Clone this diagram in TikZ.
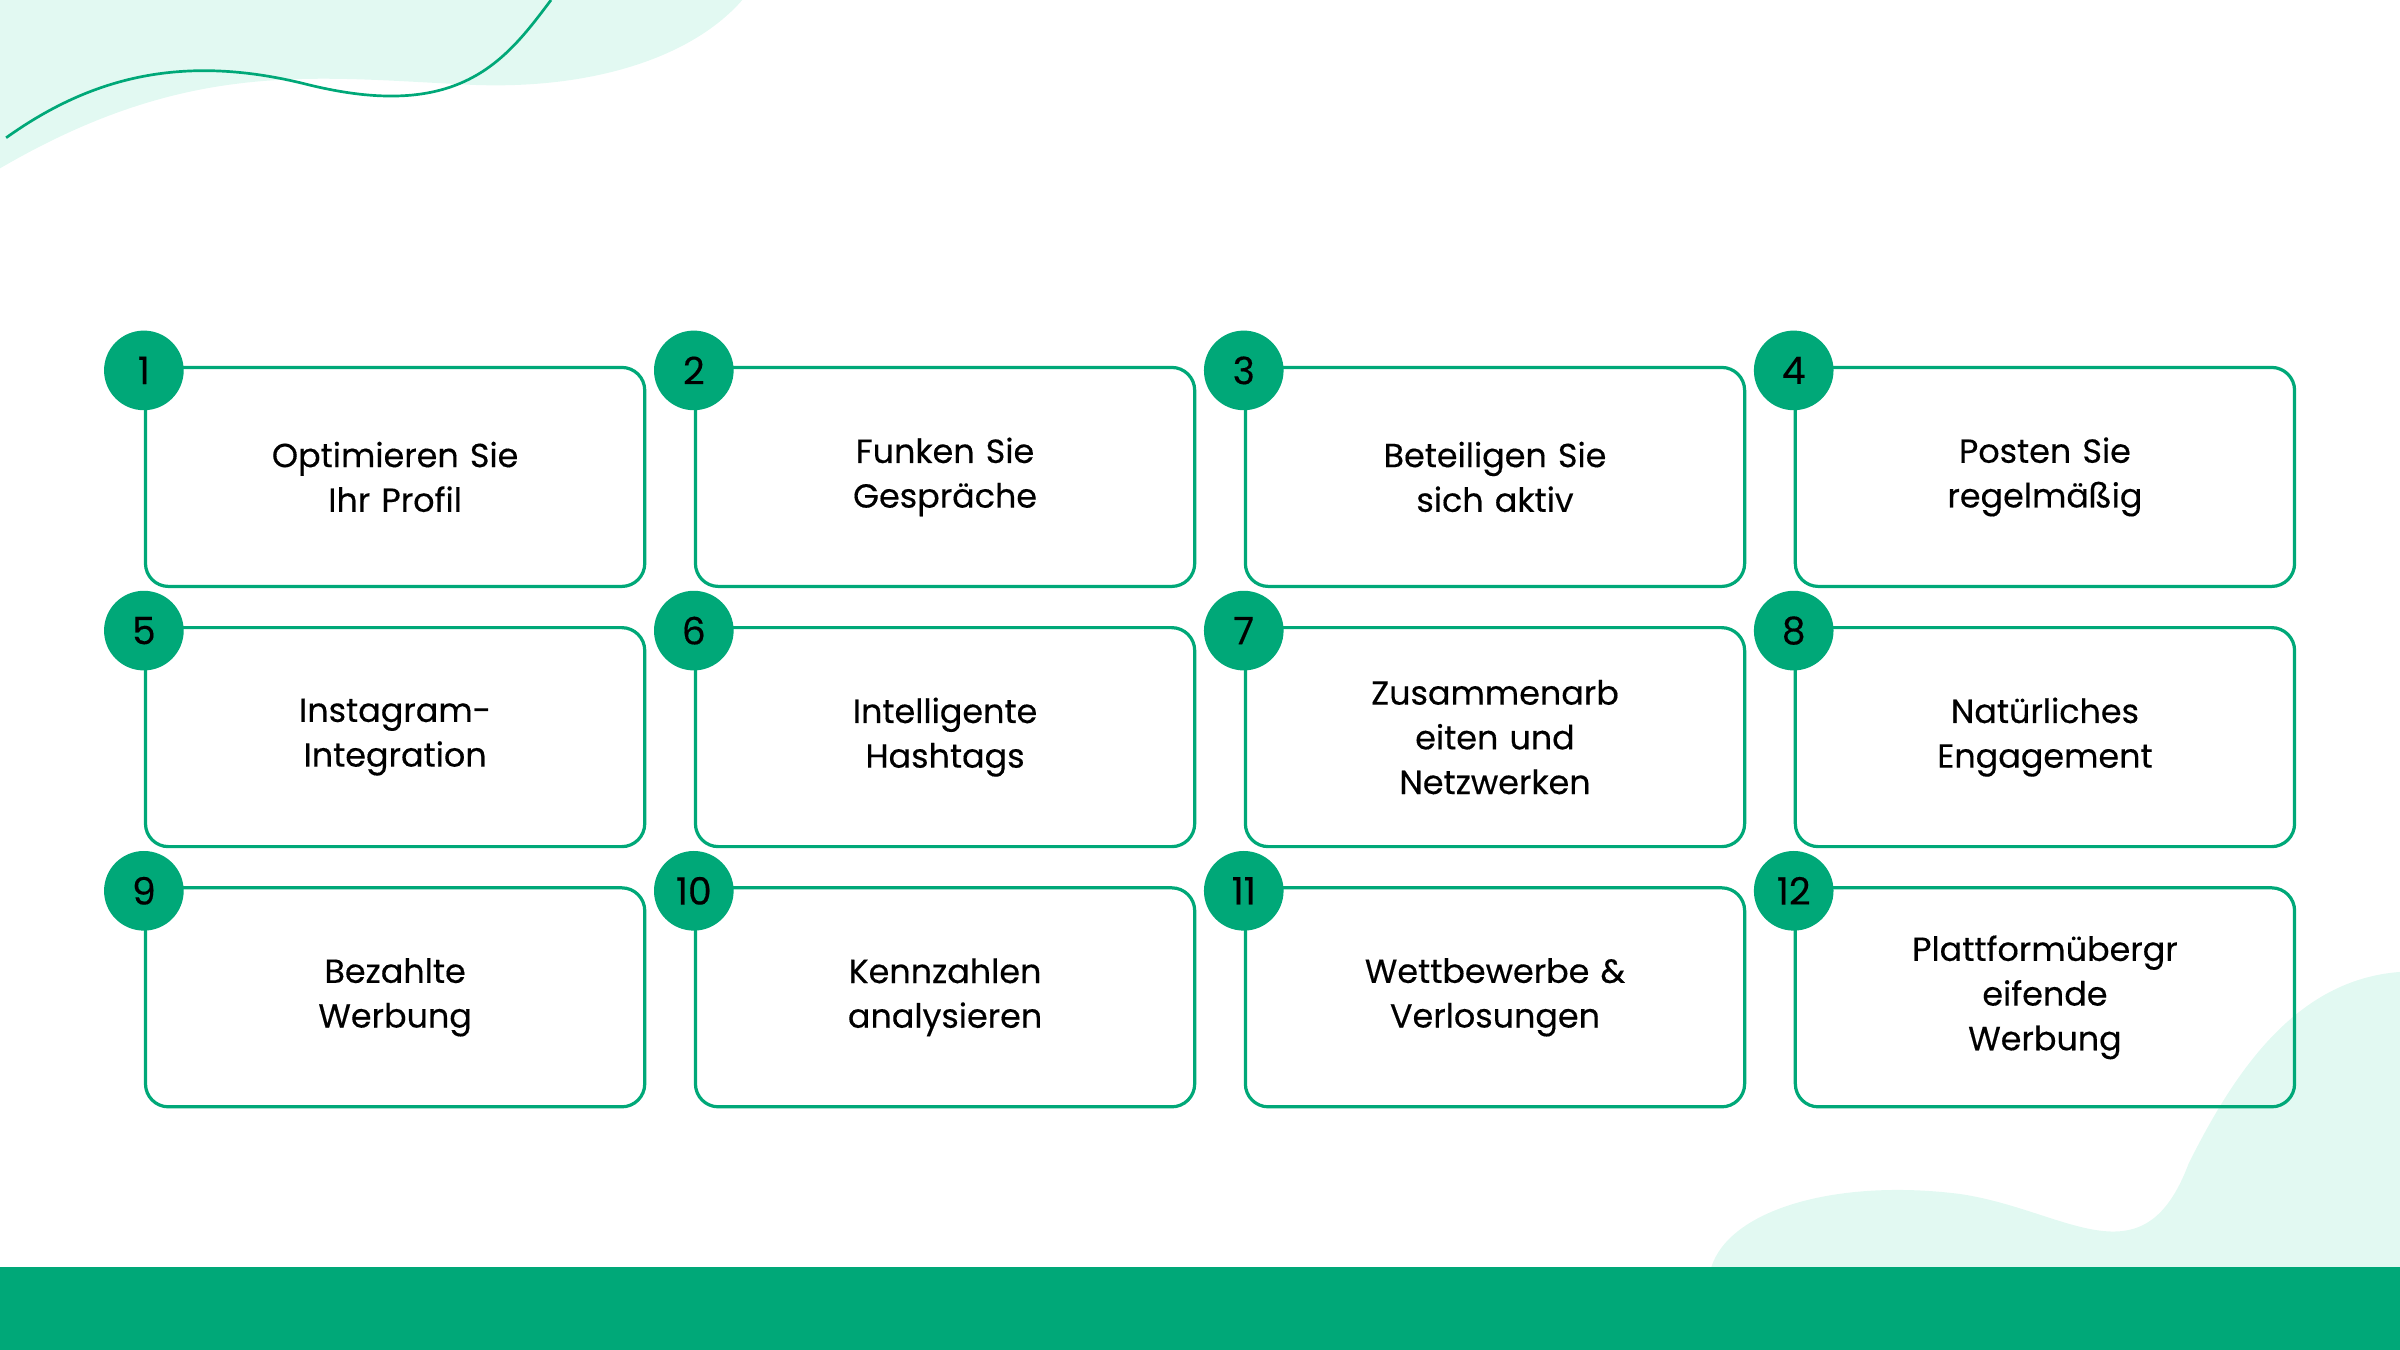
\documentclass[tikz,border=0pt]{standalone}
\usepackage{fontspec}
\setmainfont{Poppins}[UprightFeatures={FakeBold=0.35}]
\definecolor{grn}{HTML}{00A878}
\definecolor{mint}{HTML}{E2F9F2}
\tikzset{
 card/.style={draw=grn,line width=0.6pt,rounded corners=0.15cm,minimum width=3.26cm,minimum height=1.43cm,anchor=north west,align=center,font=\fontsize{6.2}{8.3}\selectfont,text width=2.4cm},
 num/.style={circle,fill=grn,minimum size=0.52cm,inner sep=0pt,font=\fontsize{7}{8}\selectfont}
}
\begin{document}
\begin{tikzpicture}[x=0.01cm,y=-0.01cm]
\useasboundingbox (0,0) rectangle (1568,882);
% blobs
\fill[mint] (0,0) -- (485,0) .. controls (450,40) and (380,60) .. (300,55) .. controls (200,50) and (120,40) .. (0,110) -- cycle;
\fill[mint] (1118,828) .. controls (1130,790) and (1200,770) .. (1280,780) .. controls (1350,790) and (1400,840) .. (1430,760) .. controls (1460,700) and (1500,640) .. (1568,635) -- (1568,828) -- cycle;
\draw[grn,line width=0.5pt] (4,90) .. controls (60,50) and (120,35) .. (200,55) .. controls (300,80) and (330,40) .. (360,0);
\fill[grn] (0,828) rectangle (1568,882);
\foreach \i/\t [count=\k from 0] in {1/{Optimieren Sie\\Ihr Profil},2/{Funken Sie\\Gespräche},3/{Beteiligen Sie\\sich aktiv},4/{Posten Sie\\regelmäßig},5/{Instagram-\\Integration},6/{Intelligente\\Hashtags},7/{Zusammenarb\\eiten und\\Netzwerken},8/{Natürliches\\Engagement},9/{Bezahlte\\Werbung},10/{Kennzahlen\\analysieren},11/{Wettbewerbe \&\\Verlosungen},12/{Plattformübergr\\eifende\\Werbung}}{
 \pgfmathsetmacro\cx{94+359.3*mod(\k,4)}
 \pgfmathsetmacro\cy{239+170*floor(\k/4)}
 \node[card] (c\i) at (\cx,\cy) {\t};
 \node[num] (n\i) at ([yshift=-0.03cm]c\i.north west) {\i};
}
\end{tikzpicture}
\end{document}
